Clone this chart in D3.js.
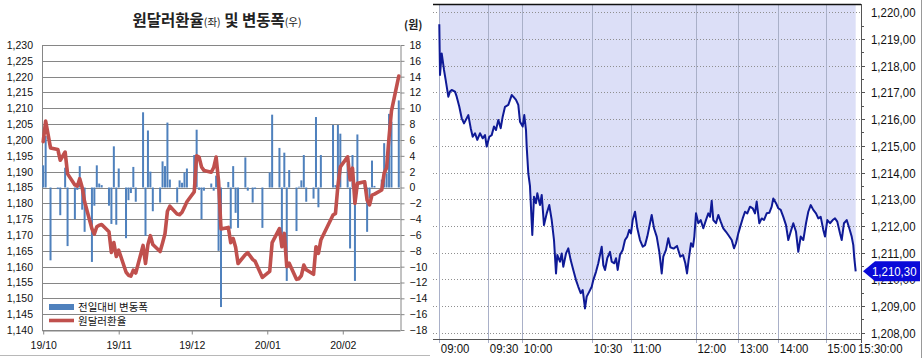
<!DOCTYPE html>
<html><head><meta charset="utf-8">
<script src="https://cdn.jsdelivr.net/npm/d3@7"></script>
<style>body{margin:0;background:#fff}svg{display:block}</style>
</head><body><svg id="c" width="923" height="358"></svg>
<script>
// ---------------- DATA (left panel) ----------------
const dates = [
"2019-10-01","2019-10-02","2019-10-04","2019-10-07","2019-10-08","2019-10-10","2019-10-11","2019-10-14","2019-10-15","2019-10-16","2019-10-17","2019-10-18","2019-10-21","2019-10-22","2019-10-23","2019-10-24","2019-10-25","2019-10-28","2019-10-29","2019-10-30","2019-10-31",
"2019-11-01","2019-11-04","2019-11-05","2019-11-06","2019-11-07","2019-11-08","2019-11-11","2019-11-12","2019-11-13","2019-11-14","2019-11-15","2019-11-18","2019-11-19","2019-11-20","2019-11-21","2019-11-22","2019-11-25","2019-11-26","2019-11-27","2019-11-28","2019-11-29",
"2019-12-02","2019-12-03","2019-12-04","2019-12-05","2019-12-06","2019-12-09","2019-12-10","2019-12-11","2019-12-12","2019-12-13","2019-12-16","2019-12-17","2019-12-18","2019-12-19","2019-12-20","2019-12-23","2019-12-24","2019-12-26","2019-12-27","2019-12-30",
"2020-01-02","2020-01-03","2020-01-06","2020-01-07","2020-01-08","2020-01-09","2020-01-10","2020-01-13","2020-01-14","2020-01-15","2020-01-16","2020-01-17","2020-01-20","2020-01-21","2020-01-22","2020-01-23","2020-01-28","2020-01-29","2020-01-30","2020-01-31",
"2020-02-03","2020-02-04","2020-02-05","2020-02-06","2020-02-07","2020-02-10","2020-02-11","2020-02-12","2020-02-13","2020-02-14","2020-02-17","2020-02-18","2020-02-19","2020-02-20","2020-02-21","2020-02-24"];
const rate = [
1199.5,1206.0,1197.5,1197.0,1193.6,1196.2,1189.3,1185.8,1185.4,1187.8,1185.0,1180.5,1172.0,1170.3,1172.6,1173.1,1173.3,1171.0,1164.5,1167.6,1163.2,
1165.2,1158.3,1157.3,1157.0,1158.9,1158.0,1166.7,1161.0,1167.0,1169.8,1167.0,1164.8,1167.5,1170.4,1177.5,1179.1,1176.6,1176.4,1177.2,1178.8,1180.5,
1183.6,1195.0,1194.6,1191.5,1190.4,1189.8,1191.3,1194.6,1187.0,1171.9,1172.4,1167.6,1168.9,1166.1,1161.0,1163.8,1164.4,1162.3,1161.7,1156.6,
1158.5,1167.6,1172.0,1166.3,1170.5,1160.0,1161.1,1156.0,1156.2,1157.2,1160.5,1159.0,1157.6,1166.3,1164.2,1168.4,1176.3,1176.8,1185.5,1191.5,
1194.7,1187.4,1191.1,1180.0,1186.3,1186.8,1181.0,1179.5,1182.6,1182.9,1184.2,1189.6,1191.2,1200.9,1209.2,1220.2];
const change = [
2.8,6.5,-9.2,-0.2,-3.5,2.5,-7.4,-4.0,-0.3,2.7,-2.8,-5.6,-9.4,-2.3,2.8,0.5,0.3,-2.3,-4.6,5.2,-4.7,
2.4,-6.4,-1.6,-0.7,2.6,-1.8,9.5,-6.1,7.2,2.0,-3.0,-1.9,3.3,2.7,8.2,1.0,-1.9,0.9,0.6,1.9,2.4,
4.1,7.3,-0.3,-4.0,-0.4,0.5,-0.4,1.5,-8.0,-15.1,0.7,-5.2,2.7,-3.2,-5.1,3.8,-0.4,-1.9,-0.2,-5.1,
1.9,9.2,5.0,-6.0,4.4,-11.8,2.2,-5.5,0.1,0.9,4.1,-1.8,-1.4,8.9,-2.5,4.1,7.9,0.3,7.9,6.8,
3.0,-7.7,4.1,-11.8,6.7,0.9,-5.6,-1.4,3.4,0.2,1.0,5.6,1.8,9.3,8.3,11.0];
const monthTicks = ["2019-10-01","2019-11-01","2019-12-01","2020-01-01","2020-02-01"];
const monthLabels = ["19/10","19/11","19/12","20/01","20/02"];
const rateTicks = [1140,1145,1150,1155,1160,1165,1170,1175,1180,1185,1190,1195,1200,1205,1210,1215,1220,1225,1230];
const changeTicks = [-18,-16,-14,-12,-10,-8,-6,-4,-2,0,2,4,6,8,10,12,14,16,18];
const seriesNames = ["전일대비 변동폭","원달러환율"];

// ---------------- DATA (right panel, intraday) ----------------
const times = [
"09:00:00","09:00:26","09:01:28","09:02:05","09:02:53","09:03:55","09:05:31","09:06:33","09:07:35","09:09:37",
"09:10:39","09:12:15","09:13:43","09:15:08","09:16:47","09:17:46","09:19:14","09:20:27","09:21:52","09:23:16",
"09:24:55","09:26:34","09:27:59","09:29:01","09:30:53","09:33:00","09:35:02","09:36:48","09:38:50","09:40:57",
"09:42:42","09:44:44","09:47:39","09:50:39","09:52:04","09:54:27","09:56:28","09:57:58","10:00:10","10:00:51",
"10:01:35","10:01:53","10:02:34","10:03:17","10:04:17","10:05:01","10:05:52","10:06:26","10:07:35","10:08:19",
"10:09:18","10:10:28","10:11:34","10:12:36","10:13:35","10:14:27","10:15:00","10:16:09","10:16:53","10:17:34",
"10:18:44","10:19:43","10:20:44","10:21:51","10:23:01","10:24:00","10:25:02","10:25:53","10:26:52","10:27:36",
"10:28:43","10:29:45","10:30:46","10:32:51","10:34:37","10:35:55","10:37:14","10:38:28","10:39:46","10:41:32",
"10:43:37","10:44:55","10:46:55","10:48:14","10:49:32","10:51:18","10:53:23","10:55:09","10:56:55","10:58:28",
"10:59:46","11:01:18","11:03:26","11:05:34","11:08:04","11:10:35","11:12:43","11:14:50","11:17:21","11:18:55",
"11:21:04","11:23:34","11:25:58","11:28:12","11:29:41","11:32:11","11:34:19","11:36:11","11:39:14","11:42:23",
"11:45:27","11:47:58","11:50:05","11:51:40","11:53:09","11:55:23","11:57:14","11:58:27","12:00:00","12:03:16",
"12:06:40","12:10:21","12:14:11","12:17:27","12:19:52","12:22:16","12:24:32","12:28:22","12:31:38","12:35:02",
"12:38:43","12:42:33","12:45:49","12:50:38","12:53:54","12:56:44","13:00:00","13:03:36","13:06:36","13:10:03",
"13:13:30","13:17:33","13:21:35","13:25:02","13:27:35","13:31:29","13:35:05","13:38:32","13:42:35","13:46:29",
"13:50:05","13:52:29","13:56:33","14:00:00","14:03:02","14:06:20","14:09:45","14:12:40","14:15:42","14:18:59",
"14:22:25","14:25:19","14:28:21","14:31:39","14:35:04","14:37:58","14:41:01","14:44:18","14:47:43","14:50:38",
"14:53:40","14:56:58","14:59:07","15:01:22","15:03:39","15:05:57","15:07:54","15:09:51","15:12:09","15:13:36",
"15:15:33","15:17:51","15:20:03","15:22:05","15:23:27","15:24:18","15:25:29"];
const price = [
1219.55,1217.65,1218.46,1218.20,1217.84,1217.46,1216.84,1217.03,1217.09,1217.03,
1216.84,1216.46,1216.03,1215.84,1216.03,1216.15,1215.66,1215.34,1215.47,1215.22,
1215.47,1215.28,1215.40,1214.97,1215.34,1215.40,1215.72,1215.59,1215.97,1215.66,
1216.09,1216.46,1216.53,1216.90,1216.84,1216.72,1216.53,1215.90,1215.72,1216.15,
1215.59,1214.97,1213.97,1213.50,1211.66,1213.09,1212.85,1213.22,1212.78,1213.16,
1212.03,1212.47,1212.78,1212.22,1211.47,1210.22,1210.91,1210.66,1210.97,1210.47,
1210.97,1211.16,1210.72,1210.35,1209.97,1209.72,1209.48,1209.60,1208.91,1209.35,
1209.54,1209.72,1209.97,1210.28,1210.60,1210.91,1211.22,1210.53,1210.35,1210.79,
1211.03,1210.66,1210.60,1210.79,1210.35,1210.91,1211.10,1211.47,1211.60,1211.85,
1211.72,1212.22,1212.53,1211.91,1211.47,1211.22,1211.28,1211.60,1212.10,1212.41,
1211.91,1211.60,1211.03,1210.22,1210.85,1211.10,1211.54,1211.20,1211.15,1211.25,
1210.85,1210.91,1210.60,1210.22,1210.72,1211.35,1211.22,1211.60,1212.47,1212.10,
1212.22,1211.91,1212.22,1212.47,1212.34,1212.94,1212.22,1212.10,1212.41,1212.16,
1211.91,1211.78,1211.66,1211.47,1211.16,1211.35,1211.72,1212.03,1212.28,1212.53,
1212.47,1212.72,1212.66,1212.47,1212.91,1212.10,1212.28,1212.22,1212.47,1212.49,
1212.72,1213.03,1212.85,1212.66,1212.60,1212.34,1212.03,1211.47,1211.78,1212.10,
1211.78,1211.03,1211.60,1211.47,1212.10,1212.53,1212.78,1212.60,1212.47,1212.28,
1212.34,1211.85,1211.60,1212.22,1212.10,1212.22,1212.28,1212.16,1211.72,1211.47,
1212.10,1212.22,1211.91,1211.60,1211.28,1210.79,1210.30];
const timeTicks = ["09:00:00","09:30:00","10:00:00","10:30:00","11:00:00","12:00:00","13:00:00","14:00:00","15:00:00","15:30:00"];
const timeTickLabels = ["09:00","09:30","10:00","10:30","11:00","12:00","13:00","14:00","15:00","15:30:00"];
const priceTicks = [1208,1209,1210,1211,1212,1213,1214,1215,1216,1217,1218,1219,1220];
const lastPrice = 1210.30;

// ---------------- LAYOUT ----------------
const svg = d3.select("#c");
svg.append("rect").attr("width",923).attr("height",358).attr("fill","#fff");
const parseD = d3.timeParse("%Y-%m-%d");
const parseT = d3.timeParse("%Y-%m-%d %H:%M:%S");
const day = "2020-02-25 ";
const KR = "'Noto Sans CJK KR','Malgun Gothic',sans-serif";
const NUM = "'Liberation Sans',Arial,sans-serif";
// narrow bitmap-like look: squeeze text to a fixed advance per glyph
const narrowLen = s => Array.from(s).reduce((a,c)=>a+(/[0-9]/.test(c)?6.35:3.2),0);
function narrow(sel){
  sel.attr("font-family",NUM).attr("font-size",13.5)
     .attr("textLength",function(){return narrowLen(this.textContent);})
     .attr("lengthAdjust","spacingAndGlyphs");
}

// ===== Left panel =====
const L = {x0:42, x1:400, top:45, bot:330};
const xL = d3.scaleTime().domain([new Date(2019,8,30,12), new Date(2020,1,24,12)]).range([L.x0, L.x1]);
const yL = d3.scaleLinear().domain([1140,1230]).range([L.bot, L.top]);
const yC = d3.scaleLinear().domain([-18,18]).range([L.bot, L.top]);
const gridCol = "#868686";

const left = svg.append("g");
left.append("g").selectAll("line").data(rateTicks).join("line")
  .attr("x1",L.x0).attr("x2",L.x1).attr("y1",d=>Math.round(yL(d))+0.5).attr("y2",d=>Math.round(yL(d))+0.5)
  .attr("stroke",gridCol).attr("stroke-width",1);
left.append("line").attr("x1",L.x0+0.5).attr("x2",L.x0+0.5).attr("y1",L.top).attr("y2",L.bot)
  .attr("stroke",gridCol);

const axL = left.append("g").attr("transform",`translate(${L.x0},0)`)
  .call(d3.axisLeft(yL).tickValues(rateTicks).tickFormat(d3.format(",")).tickSize(0).tickPadding(9));
axL.select(".domain").remove();
axL.selectAll("text").attr("font-family",NUM).attr("font-size",10.5).attr("fill","#111");

const axR = left.append("g").attr("transform",`translate(${L.x1+0.5},0)`)
  .call(d3.axisRight(yC).tickValues(changeTicks).tickSize(4).tickSizeOuter(0).tickPadding(5));
axR.select(".domain").attr("stroke",gridCol);
axR.selectAll("line").attr("stroke",gridCol);
axR.selectAll("text").attr("font-family",NUM).attr("font-size",10.5).attr("fill","#111");

const axB = left.append("g").attr("transform",`translate(0,${L.bot+0.5})`)
  .call(d3.axisBottom(xL).tickValues(monthTicks.map(parseD)).tickSize(4).tickSizeOuter(0).tickPadding(7)
    .tickFormat((d,i)=>monthLabels[i]));
axB.select(".domain").attr("stroke",gridCol);
axB.selectAll("line").attr("stroke",gridCol);
axB.selectAll("text").attr("font-family",NUM).attr("font-size",10.5).attr("fill","#111");

const lData = dates.map((d,i)=>({date:parseD(d), rate:rate[i], change:change[i]}));
left.append("g").selectAll("rect").data(lData).join("rect")
  .attr("x",d=>xL(d.date)-1).attr("width",2)
  .attr("y",d=>Math.min(yC(0),yC(d.change))).attr("height",d=>Math.abs(yC(d.change)-yC(0)))
  .attr("fill","#4f81bd");
left.append("path").datum(lData)
  .attr("d",d3.line().x(d=>xL(d.date)).y(d=>yL(d.rate)))
  .attr("fill","none").attr("stroke","#c0504d").attr("stroke-width",3.6)
  .attr("stroke-linejoin","round").attr("stroke-linecap","round");

// title
const title = left.append("text").attr("x",217).attr("y",26).attr("text-anchor","middle")
  .attr("font-family",KR).attr("font-weight","bold").attr("fill","#222");
title.append("tspan").attr("font-size",15.5).text("원달러환율");
title.append("tspan").attr("font-size",10.5).attr("font-weight","normal").text("(좌)");
title.append("tspan").attr("font-size",15.5).text(" 및 변동폭");
title.append("tspan").attr("font-size",10.5).attr("font-weight","normal").text("(우)");
left.append("text").attr("x",404).attr("y",29).attr("font-family",KR).attr("font-size",11)
  .attr("font-weight","bold").attr("fill","#222").text("(원)");

// legend
const lg = left.append("g");
lg.append("rect").attr("x",49).attr("y",304).attr("width",25).attr("height",6).attr("fill","#4f81bd");
lg.append("line").attr("x1",49).attr("x2",74).attr("y1",320.5).attr("y2",320.5)
  .attr("stroke","#c0504d").attr("stroke-width",3.6);
lg.selectAll("text").data(seriesNames).join("text")
  .attr("x",78).attr("y",(d,i)=>311+i*14).attr("font-family",KR).attr("font-size",10.5).attr("fill","#111").text(d=>d);

left.append("line").attr("x1",0).attr("x2",430).attr("y1",355.5).attr("y2",355.5).attr("stroke","#b8b8b8");

// ===== Right panel =====
const R = {x0:433, x1:861, top:4, bot:339};
const xR = d3.scaleTime()
  .domain(timeTicks.map(t=>parseT(day+t)))
  .range([439.3,488.3,522.3,592.3,631.3,696,738.3,778.3,825.7,861]);
const yP = d3.scaleLinear().domain([1208,1220]).range([332.7,12.3]);
const right = svg.append("g");
const rData = times.map((t,i)=>({t:parseT(day+t), v:price[i]}));

right.append("path").datum(rData)
  .attr("d",d3.area().x(d=>xR(d.t)).y0(R.top).y1(d=>yP(d.v)))
  .attr("fill","#dcdff7");
// dotted horizontal grid
right.append("g").selectAll("line").data(priceTicks).join("line")
  .attr("x1",R.x0).attr("x2",R.x1).attr("y1",d=>Math.round(yP(d))+0.5).attr("y2",d=>Math.round(yP(d))+0.5)
  .attr("stroke","#8f8f8f").attr("stroke-dasharray","1,2");
// vertical grid
right.append("g").selectAll("line").data(timeTicks.slice(0,-1)).join("line")
  .attr("x1",d=>Math.round(xR(parseT(day+d)))+0.5).attr("x2",d=>Math.round(xR(parseT(day+d)))+0.5)
  .attr("y1",R.top).attr("y2",R.bot+4).attr("stroke","#a9b0c8");
// line
right.append("path").datum(rData)
  .attr("d",d3.line().x(d=>xR(d.t)).y(d=>yP(d.v)))
  .attr("fill","none").attr("stroke","#0f1a96").attr("stroke-width",2).attr("stroke-linejoin","round");
// frame
right.append("line").attr("x1",R.x0).attr("x2",R.x1).attr("y1",R.top+0.5).attr("y2",R.top+0.5).attr("stroke","#111").attr("stroke-width",1.5);
right.append("line").attr("x1",R.x0).attr("x2",R.x1).attr("y1",R.bot+0.5).attr("y2",R.bot+0.5).attr("stroke","#555");
right.append("line").attr("x1",R.x1+0.5).attr("x2",R.x1+0.5).attr("y1",R.top).attr("y2",R.bot+4).attr("stroke","#555");
right.append("line").attr("x1",921.5).attr("x2",921.5).attr("y1",0).attr("y2",358).attr("stroke","#999");
// y axis ticks & labels
const half = d3.range(priceTicks[0], priceTicks[priceTicks.length-1], 0.5);
right.append("g").selectAll("line").data(half).join("line")
  .attr("x1",R.x1).attr("x2",d=>R.x1+(Number.isInteger(d)?4:3))
  .attr("y1",d=>Math.round(yP(d))+0.5).attr("y2",d=>Math.round(yP(d))+0.5).attr("stroke","#555");
const fmtP = v=>d3.format(",.2f")(v).replace(".",",");
right.append("g").selectAll("text").data(priceTicks).join("text")
  .attr("x",871).attr("y",d=>yP(d)+5).attr("fill","#111")
  .text(fmtP).call(narrow);
// x labels
right.append("g").selectAll("text").data(timeTicks).join("text")
  .attr("x",(d,i)=>xR(parseT(day+d))+(i===timeTicks.length-1?-3:1.5)).attr("y",353)
  .attr("fill","#111")
  .text((d,i)=>timeTickLabels[i]).call(narrow);
// last price tag
const ty = yP(lastPrice);
right.append("path")
  .attr("d",`M${R.x1+2},${ty} L${R.x1+14},${ty-10} L920,${ty-10} L920,${ty+10} L${R.x1+14},${ty+10} Z`)
  .attr("fill","#0a0ad8");
right.append("text").attr("x",872).attr("y",ty+5)
  .attr("fill","#fff").text(fmtP(lastPrice)).call(narrow);
</script></body></html>
